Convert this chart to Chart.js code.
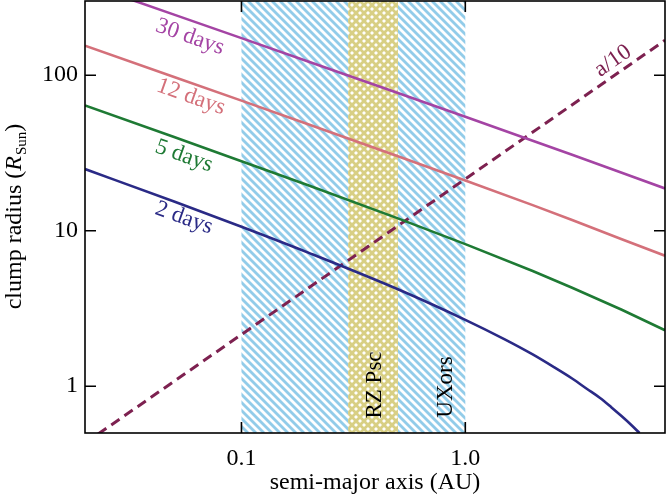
<!DOCTYPE html>
<html>
<head>
<meta charset="utf-8">
<script src="https://cdn.jsdelivr.net/npm/chart.js@4/dist/chart.umd.min.js"></script>
<style>
  body { margin: 0; background: #fff; }
  #wrap { width: 667px; height: 498px; }
</style>
</head>
<body>
<div id="wrap"><canvas id="clumpChart"></canvas></div>
<script>
// semi-major axis (AU) sample points
const aLines = [0.02, 0.05, 0.1, 0.2, 0.5, 1, 2, 3, 5, 7.8];
const r30days = [388, 245.2, 173.1, 122.1, 76.9, 54.0, 37.9, 30.8, 23.6, 18.7];
const r12days = [154.7, 97.5, 68.6, 48.2, 30.1, 21.0, 14.6, 11.7, 8.8, 6.9];
const r5days = [63.9, 40.0, 28.0, 19.5, 12.0, 8.2, 5.5, 4.3, 3.1, 2.29];
const a2days = [0.02, 0.05, 0.1, 0.2, 0.5, 1, 1.5, 2, 2.5, 3, 3.5, 4, 4.5, 5, 5.5, 6];
const r2days = [24.9, 15.4, 10.6, 7.2, 4.2, 2.67, 2.0, 1.60, 1.32, 1.12, 0.96, 0.84, 0.73, 0.64, 0.565, 0.50];
const aDiag = [0.02, 7.8];
const rDiag = [0.43, 167.7];

// shaded ranges in AU
const uxorBand = [0.1, 1.0];
const rzBand = [0.3, 0.5];

const xTickLabels = { '-1': '0.1', '0': '1.0' };
const yTickLabels = { '0': '1', '1': '10', '2': '100' };

const SERIF = '"Liberation Serif", "DejaVu Serif", serif';

function pts(xs, ys) {
  return xs.map(function (x, i) { return { x: x, y: ys[i] }; });
}
function isDecade(v) {
  const l = Math.log10(v);
  return Math.abs(l - Math.round(l)) < 1e-6;
}
function decadeLabel(v, table) {
  if (!isDecade(v)) return null;
  const lab = table[String(Math.round(Math.log10(v)))];
  return lab === undefined ? null : lab;
}

const hatchPlugin = {
  id: 'hatch',
  beforeDatasetsDraw(chart) {
    const ctx = chart.ctx, ca = chart.chartArea, xs = chart.scales.x;
    const top = Math.round(ca.top), bottom = Math.round(ca.bottom);
    const h = bottom - top;
    function hatch(band, color, dirs) {
      const x0 = xs.getPixelForValue(band[0]);
      const x1 = xs.getPixelForValue(band[1]);
      ctx.save();
      ctx.beginPath();
      ctx.rect(x0, top, x1 - x0, h);
      ctx.clip();
      ctx.fillStyle = '#fff';
      ctx.fillRect(x0, top, x1 - x0, h);
      ctx.strokeStyle = color;
      ctx.lineWidth = 2.8;
      ctx.lineCap = 'butt';
      dirs.forEach(function (d) {
        for (let x = -h - 16; x < chart.width + h; x += 8) {
          ctx.beginPath();
          if (d > 0) {
            ctx.moveTo(x, top);
            ctx.lineTo(x + h, bottom);
          } else {
            ctx.moveTo(x, bottom);
            ctx.lineTo(x + h, top);
          }
          ctx.stroke();
        }
      });
      ctx.restore();
    }
    hatch(uxorBand, '#92cce9', [1]);
    hatch(rzBand, '#d8cf84', [1, -1]);
  },
  afterDatasetsDraw(chart) {
    const ctx = chart.ctx, ca = chart.chartArea;
    function label(text, x, y, ang, color) {
      ctx.save();
      ctx.translate(x, y);
      ctx.rotate(ang * Math.PI / 180);
      ctx.fillStyle = color;
      ctx.font = '23px ' + SERIF;
      ctx.textAlign = 'center';
      ctx.textBaseline = 'middle';
      ctx.fillText(text, 0, 0);
      ctx.restore();
    }
    label('30 days', 190, 37, 19.5, '#a444a4');
    label('12 days', 191, 97, 19.5, '#d4707a');
    label('5 days', 184, 156, 19.5, '#1e7a34');
    label('2 days', 184, 218, 19.5, '#2a2a86');
    label('a/10', 613, 61, -35, '#7d2150');
    label('RZ Psc', 375, 385, -90, '#000');
    label('UXors', 446, 387, -90, '#000');

    // frame and inward ticks on all four sides
    ctx.save();
    ctx.strokeStyle = '#000';
    ctx.lineWidth = 1.6;
    ctx.strokeRect(ca.left, ca.top, ca.right - ca.left, ca.bottom - ca.top);
    ['x', 'y'].forEach(function (id) {
      const sc = chart.scales[id];
      sc.ticks.forEach(function (t) {
        if (t.value < sc.min || t.value > sc.max) return;
        const p = sc.getPixelForValue(t.value);
        const len = isDecade(t.value) ? 11 : 6;
        ctx.beginPath();
        if (id === 'x') {
          ctx.moveTo(p, ca.bottom); ctx.lineTo(p, ca.bottom - len);
          ctx.moveTo(p, ca.top); ctx.lineTo(p, ca.top + len);
        } else {
          ctx.moveTo(ca.left, p); ctx.lineTo(ca.left + len, p);
          ctx.moveTo(ca.right, p); ctx.lineTo(ca.right - len, p);
        }
        ctx.stroke();
      });
    });

    // axis titles
    ctx.fillStyle = '#000';
    ctx.font = '24px ' + SERIF;
    ctx.textAlign = 'center';
    ctx.textBaseline = 'alphabetic';
    ctx.fillText('semi-major axis (AU)', (ca.left + ca.right) / 2, 489);

    const parts = [
      { t: 'clump radius (', f: '24px ' + SERIF, dy: 0 },
      { t: 'R', f: 'italic 24px ' + SERIF, dy: 0 },
      { t: 'Sun', f: '15px ' + SERIF, dy: 5 },
      { t: ')', f: '24px ' + SERIF, dy: 0 }
    ];
    let total = 0;
    parts.forEach(function (p) { ctx.font = p.f; p.w = ctx.measureText(p.t).width; total += p.w; });
    ctx.translate(21, (ca.top + ca.bottom) / 2);
    ctx.rotate(-Math.PI / 2);
    ctx.textAlign = 'left';
    let cx = -total / 2;
    parts.forEach(function (p) {
      ctx.font = p.f;
      ctx.fillText(p.t, cx, p.dy);
      cx += p.w + (p.t === 'R' ? 1 : 0);
    });
    ctx.restore();
  }
};

new Chart(document.getElementById('clumpChart'), {
  type: 'scatter',
  data: {
    datasets: [
      { label: '30 days', data: pts(aLines, r30days), borderColor: '#a444a4' },
      { label: '12 days', data: pts(aLines, r12days), borderColor: '#d4707a' },
      { label: '5 days', data: pts(aLines, r5days), borderColor: '#1e7a34' },
      { label: '2 days', data: pts(a2days, r2days), borderColor: '#2a2a86', cubicInterpolationMode: 'monotone' },
      { label: 'a/10', data: pts(aDiag, rDiag), borderColor: '#7d2150', borderDash: [10, 6], borderWidth: 3 }
    ].map(function (d) {
      return Object.assign({ showLine: true, pointRadius: 0, borderWidth: 2.6, fill: false }, d);
    })
  },
  options: {
    responsive: true,
    maintainAspectRatio: false,
    animation: false,
    layout: { padding: { left: 0, right: 2, top: 1, bottom: 0 } },
    plugins: { legend: { display: false }, tooltip: { enabled: false } },
    scales: {
      x: {
        type: 'logarithmic',
        min: 0.02,
        max: 7.8,
        grid: { display: false, drawTicks: false },
        border: { display: false },
        afterFit: function (s) { s.height = 65; s.paddingLeft = 0; s.paddingRight = 0; },
        ticks: {
          autoSkip: false,
          maxRotation: 0,
          padding: 11,
          color: '#000',
          font: { family: SERIF, size: 24 },
          callback: function (v) { return decadeLabel(v, xTickLabels); }
        }
      },
      y: {
        type: 'logarithmic',
        min: 0.5,
        max: 300,
        grid: { display: false, drawTicks: false },
        border: { display: false },
        afterFit: function (s) { s.width = 85; s.paddingTop = 0; s.paddingBottom = 0; },
        ticks: {
          autoSkip: false,
          padding: 7,
          color: '#000',
          font: { family: SERIF, size: 24 },
          callback: function (v) { return decadeLabel(v, yTickLabels); }
        }
      }
    }
  },
  plugins: [hatchPlugin]
});
</script>
</body>
</html>
